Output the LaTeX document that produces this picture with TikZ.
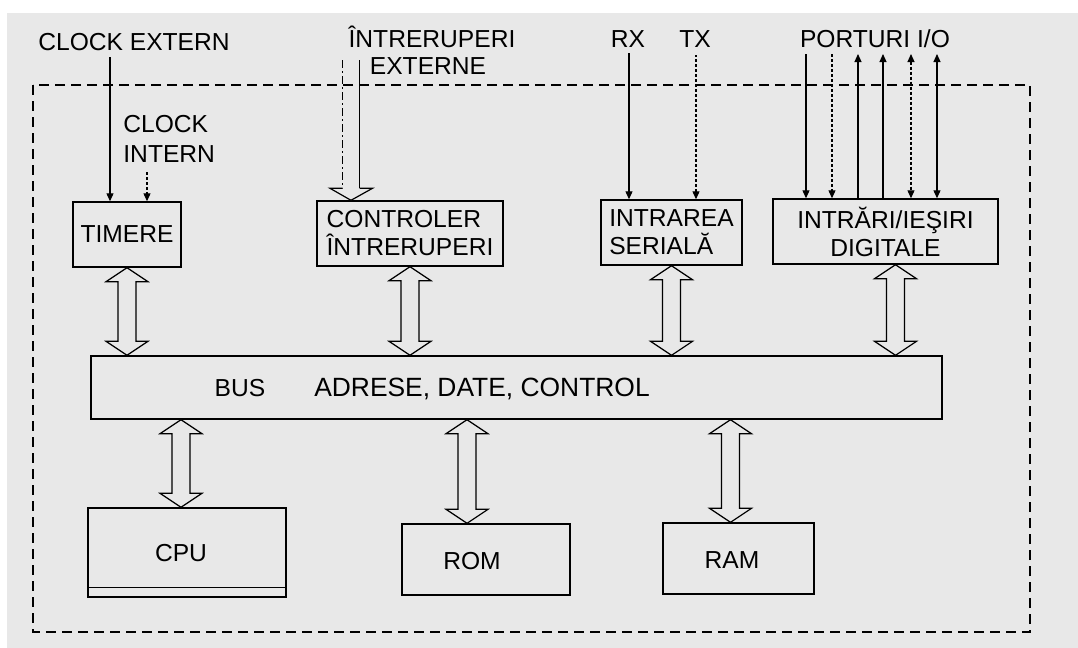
\documentclass[tikz,border=0pt]{standalone}
\usepackage{fontspec}
\setmainfont{Liberation Sans}
\usetikzlibrary{arrows.meta,positioning,calc}
\definecolor{scan}{RGB}{232,232,232}

\tikzset{
  lbl/.style={font=\fontsize{12.3}{14}\selectfont, inner sep=0pt, anchor=base},
  unit/.style={draw, line width=0.7pt, inner sep=0pt,
    font=\fontsize{12.3}{14}\selectfont},
  sigdn/.style={line width=0.55pt, -{Triangle[length=4pt,width=3.5pt]}},
  sigup/.style={line width=0.55pt, {Triangle[length=4pt,width=3.5pt]}-},
  sigbi/.style={line width=0.55pt,
    {Triangle[length=4pt,width=3.5pt]}-{Triangle[length=4pt,width=3.5pt]}},
  dots/.style={dash pattern=on 1.5pt off 1pt},
  sigdndot/.style={sigdn, dots},
  sigbidot/.style={sigbi, dots},
  frame/.style={line width=0.55pt, dash pattern=on 5pt off 3pt},
  blk/.style={draw, line width=0.6pt, fill=scan, line join=miter},
}

% hollow double arrow: #1 upper tip, #2 lower tip
\newcommand{\busarrow}[2]{%
  \draw[blk] (#1) -- ++(21,14) -- ++(-12,0) -- ($(#2)+(9,-14)$) -- ++(12,0)
    -- (#2) -- ++(-21,-14) -- ++(12,0) -- ($(#1)+(-9,14)$) -- ++(-12,0) -- cycle;}

\begin{document}
\begin{tikzpicture}[x=0.5pt, y=-0.5pt]
  \useasboundingbox (0,0) rectangle (1078,648);
  \fill[white] (0,0) rectangle (1078,648);
  \fill[scan] (7,13) rectangle (1078,648);

  % system boundary
  \draw[frame] (33,85) rectangle (1030,632);

  % units
  \node[unit, minimum width=54pt, minimum height=32.5pt] (tim) at (127,234.5) {TIMERE};
  \node[unit, minimum width=93pt, minimum height=32.5pt, align=left] (ctl) at (410,233.5)
    {CONTROLER\\ÎNTRERUPERI};
  \node[unit, minimum width=70.5pt, minimum height=32.5pt, align=left] (ser) at (671.5,232.5)
    {INTRAREA\\SERIALĂ};
  \node[unit, minimum width=112.5pt, minimum height=32.5pt, align=center] (io) at (885.5,231.5)
    {INTRĂRI/IEŞIRI\\DIGITALE};
  \node[unit, minimum width=425.5pt, minimum height=31.5pt] (bus) at (516.5,387.5) {};
  \node[unit, minimum width=99pt, minimum height=44.5pt] (cpu) at (187,552.5) {};
  \node[unit, minimum width=84pt, minimum height=35.5pt] (rom) at (486,559.5) {};
  \node[unit, minimum width=75.5pt, minimum height=35.5pt] (ram) at (738.5,558.5) {};
  \draw[line width=0.7pt] ($(cpu.south west)+(0,-10)$) -- ($(cpu.south east)+(0,-10)$);

  % labels
  \node[lbl] (cputxt) at (181,561) {CPU};
  \node[lbl] (romtxt) at (472,569) {ROM};
  \node[lbl] (ramtxt) at (732,568) {RAM};
  \node[lbl] (clkext) at (134,50) {CLOCK EXTERN};
  \node[lbl, anchor=base west] (clkint1) at (123,133) {CLOCK};
  \node[lbl, anchor=base west] (clkint2) at (123,162) {INTERN};
  \node[lbl] (irq1) at (432,47) {ÎNTRERUPERI};
  \node[lbl] (irq2) at (428,75) {EXTERNE};
  \node[lbl] (rx) at (628,47) {RX};
  \node[lbl] (tx) at (695,47) {TX};
  \node[lbl] (ports) at (875,47) {PORTURI I/O};
  \node[lbl] (bustxt) at (240,396) {BUS};
  \node[lbl, font=\fontsize{13.2}{14}\selectfont] (adrtxt) at (482,396) {ADRESE, DATE, CONTROL};

  % clock inputs
  \coordinate (ce) at (110,57);
  \coordinate (ci) at (147,172);
  \draw[sigdn] (ce) -- (ce |- tim.north);
  \draw[sigdn, dots] (ci) -- (ci |- tim.north);

  % external interrupts
  \coordinate (irq) at (351,60);
  \coordinate (irqtip) at (irq |- ctl.north);
  \draw[line width=0.55pt, dash pattern=on 4pt off 1.5pt on 1pt off 1.5pt]
    ($(irq)+(-8.5,0)$) -- ($(irqtip)+(-8.5,-12)$);
  \draw[line width=0.55pt] ($(irq)+(8.5,0)$) -- ($(irqtip)+(8.5,-12)$);
  \draw[blk] ($(irqtip)+(-8.5,-12)$) -- ++(-12.5,0) -- (irqtip)
    -- ($(irqtip)+(21.5,-12)$) -- ++(-13,0);

  % serial lines
  \coordinate (rxe) at (629,53);
  \coordinate (txe) at (696,55);
  \draw[sigdn] (rxe) -- (rxe |- ser.north);
  \draw[sigup, dots] (txe |- ser.north) -- (txe);

  % digital ports
  \foreach \px/\sty in {806/sigdn, 832/sigdndot, 858/sigup, 883/sigup,
                        911/sigbidot, 937/sigbi} {
    \coordinate (p) at (\px,54);
    \draw[\sty] (p) -- (p |- io.north);
  }

  % bus connections
  \coordinate (t4) at ($(io.south)+(10,0)$);
  \coordinate (b5) at ($(cpu.north)+(-6,0)$);
  \coordinate (b6) at ($(rom.north)+(-19,0)$);
  \coordinate (b7) at ($(ram.north)+(-8,0)$);
  \busarrow{tim.south}{tim.south |- bus.north}
  \busarrow{ctl.south}{ctl.south |- bus.north}
  \busarrow{ser.south}{ser.south |- bus.north}
  \busarrow{t4}{t4 |- bus.north}
  \busarrow{b5 |- bus.south}{b5}
  \busarrow{b6 |- bus.south}{b6}
  \busarrow{b7 |- bus.south}{b7}
\end{tikzpicture}
\end{document}
